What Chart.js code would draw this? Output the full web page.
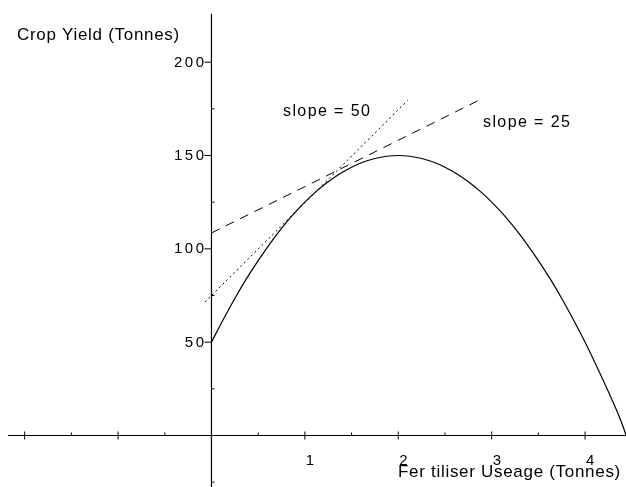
<!DOCTYPE html>
<html>
<head>
<meta charset="utf-8">
<script src="https://cdn.jsdelivr.net/npm/chart.js@4.4.0/dist/chart.umd.min.js"></script>
<style>
  body { margin: 0; background: #fff; }
  #wrap { width: 626px; height: 487px; position: relative; }
</style>
</head>
<body>
<div id="wrap"><canvas id="my-chart"></canvas></div>
<script>
// curve (x in tonnes of fertiliser, y in tonnes of crop)
const curveX = [0, 0.125, 0.25, 0.375, 0.5, 0.625, 0.75, 0.875, 1, 1.125, 1.25, 1.375, 1.5, 1.625, 1.75, 1.875, 2,
  2.125, 2.25, 2.375, 2.5, 2.625, 2.75, 2.875, 3, 3.125, 3.25, 3.375, 3.5, 3.625, 3.75, 3.875, 4, 4.125, 4.25, 4.375, 4.44];
const curveY = [50, 62, 73.4, 84, 93.7, 102.7, 110.9, 118.4, 125, 130.9, 135.9, 140.2, 143.7, 146.5, 148.4, 149.6, 150,
  149.6, 148.4, 146.5, 143.7, 140.2, 135.9, 130.9, 125, 118.4, 110.9, 102.7, 93.7, 84, 73.4, 62, 50, 37, 23.4, 9, 0];

// the two tangent lines, end points
const slope50X = [-0.07, 2.1];
const slope50Y = [71.5, 179.5];
const slope25X = [0, 2.9];
const slope25Y = [108.5, 180.5];

// axis ticks
const xMajor = [-2, -1, 0, 1, 2, 3, 4];
const xLabels = [1, 2, 3, 4];
const xMinor = [-1.5, -0.5, 0.5, 1.5, 2.5, 3.5];
const yMajor = [50, 100, 150, 200];
const yMinor = [-25, 25, 75, 125, 175];

const toPts = (xs, ys) => xs.map((x, i) => ({ x: x, y: ys[i] }));

const axesPlugin = {
  id: "crossAxes",
  afterDatasetsDraw(chart) {
    const ctx = chart.ctx;
    const xs = chart.scales.x;
    const ys = chart.scales.y;
    const x0 = xs.getPixelForValue(0);
    const y0 = ys.getPixelForValue(0);
    ctx.save();
    ctx.strokeStyle = "#000";
    ctx.lineWidth = 1.2;
    ctx.beginPath();
    ctx.moveTo(8, y0);
    ctx.lineTo(chart.width, y0);
    ctx.moveTo(x0, ys.getPixelForValue(226));
    ctx.lineTo(x0, chart.height);
    ctx.stroke();

    ctx.lineWidth = 1;
    ctx.beginPath();
    xMajor.forEach((v) => {
      const p = xs.getPixelForValue(v);
      ctx.moveTo(p, y0 - 4);
      ctx.lineTo(p, y0 + 4);
    });
    xMinor.forEach((v) => {
      const p = xs.getPixelForValue(v);
      ctx.moveTo(p, y0 - 3);
      ctx.lineTo(p, y0);
    });
    yMajor.forEach((v) => {
      const p = ys.getPixelForValue(v);
      ctx.moveTo(x0 - 7, p);
      ctx.lineTo(x0, p);
    });
    yMinor.forEach((v) => {
      const p = ys.getPixelForValue(v);
      ctx.moveTo(x0, p);
      ctx.lineTo(x0 + 3, p);
    });
    ctx.stroke();

    ctx.fillStyle = "#000";
    ctx.font = "15px 'Liberation Sans', Arial, sans-serif";
    ctx.textBaseline = "middle";
    ctx.textAlign = "right";
    ctx.letterSpacing = "2.5px";
    yMajor.forEach((v) => {
      ctx.fillText(String(v), x0 - 5, ys.getPixelForValue(v) + 0.5);
    });
    ctx.letterSpacing = "0px";
    ctx.textAlign = "left";
    xLabels.forEach((v) => {
      ctx.fillText(String(v), xs.getPixelForValue(v) + 1, y0 + 25);
    });

    ctx.font = "17px 'Liberation Sans', Arial, sans-serif";
    ctx.letterSpacing = "0.7px";
    ctx.fillText("Crop Yield (Tonnes)", 17, 35);
    ctx.fillText("Fer tiliser Useage (Tonnes)", 398, 472);
    ctx.font = "16px 'Liberation Sans', Arial, sans-serif";
    ctx.letterSpacing = "1.4px";
    ctx.fillText("slope = 50", 283, 112);
    ctx.fillText("slope = 25", 483, 123);
    ctx.restore();
  },
};

const ctx = document.getElementById("my-chart").getContext("2d");
const chart = new Chart(ctx, {
  type: "scatter",
  data: {
    datasets: [
      {
        label: "yield",
        data: toPts(curveX, curveY),
        showLine: true,
        borderColor: "#000",
        borderWidth: 1.2,
        pointRadius: 0,
        cubicInterpolationMode: "monotone",
      },
      {
        label: "slope = 50",
        data: toPts(slope50X, slope50Y),
        showLine: true,
        borderColor: "#000",
        borderWidth: 1,
        borderDash: [2, 3],
        pointRadius: 0,
      },
      {
        label: "slope = 25",
        data: toPts(slope25X, slope25Y),
        showLine: true,
        borderColor: "#000",
        borderWidth: 1,
        borderDash: [9, 7],
        pointRadius: 0,
      },
    ],
  },
  options: {
    responsive: true,
    maintainAspectRatio: false,
    animation: false,
    layout: { padding: 0 },
    plugins: { legend: { display: false }, tooltip: { enabled: false } },
    scales: {
      x: { type: "linear", display: false, min: -2.264, max: 4.438 },
      y: { type: "linear", display: false, min: -27.6, max: 233.3 },
    },
  },
  plugins: [axesPlugin],
});
</script>
</body>
</html>
